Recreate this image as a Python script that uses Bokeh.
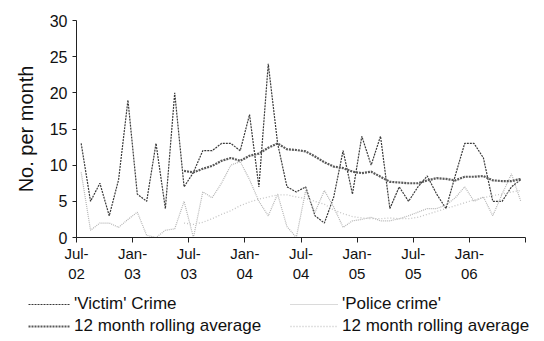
from bokeh.plotting import figure
from bokeh.models import FixedTicker, Range1d, Legend, LegendItem
from bokeh.embed import file_html
from bokeh.resources import INLINE

# Monthly data, Jul-02 .. Jun-06 (48 months)
month_index = list(range(48))
victim = [13, 5, 7.5, 3, 8, 19, 6, 5, 13, 4,
          20, 7, 9, 12, 12, 13, 13, 12, 17, 7,
          24, 13, 7, 6.3, 7, 3, 2, 5.6, 12, 6,
          14, 10, 14, 4, 7, 5, 7, 8.5, 6, 4,
          8.6, 13, 13, 11, 5, 5, 7, 8]
police = [9, 1, 2, 2, 1.4, 2.5, 3.5, 0.3, 0, 1,
          1.2, 5, 0, 6.3, 5.5, 7.5, 10, 10.5, 8, 5,
          3, 6, 1.5, 0, 6.5, 3.5, 6.5, 4.2, 1.4, 2.3,
          2.5, 2.8, 2.3, 2.3, 2.6, 3, 3.5, 4, 4, 4.5,
          5.5, 7, 5, 5.6, 3, 6, 8.8, 5]
# 12 month rolling averages (from Jun-03, month 11)
rolling_start = 11
victim_avg = [9.2, 9.0, 9.5, 9.9, 10.6, 11.0, 10.6, 11.3, 11.6, 12.4,
              13.0, 12.2, 12.1, 11.9, 11.2, 10.4, 9.8, 9.6, 9.1, 8.9,
              9.1, 8.4, 7.7, 7.6, 7.5, 7.5, 7.9, 8.2, 8.1, 7.9,
              8.4, 8.4, 8.5, 7.9, 7.8, 7.8, 8.1]
police_avg = [2.0, 1.8, 2.1, 2.6, 3.2, 3.7, 4.4, 4.9, 5.3, 5.6,
              5.9, 5.9, 5.6, 5.4, 5.0, 4.6, 3.8, 3.3, 2.9, 2.7,
              2.6, 2.6, 2.7, 2.6, 2.6, 2.8, 3.2, 3.6, 4.0, 4.4,
              4.8, 5.2, 5.5, 5.8, 6.0, 6.3, 6.5]

tick_positions = [0, 6, 12, 18, 24, 30, 36, 42, 48]
tick_labels = ["Jul-\n02", "Jan-\n03", "Jul-\n03", "Jan-\n04", "Jul-\n04",
               "Jan-\n05", "Jul-\n05", "Jan-\n06", ""]
y_ticks = [0, 5, 10, 15, 20, 25, 30]

FONT = "Liberation Sans"

STY_V = dict(line_color="#3a3a3a", line_width=1.2, line_dash="2 1")
STY_P = dict(line_color="#b4b4b4", line_width=1.2, line_dash="1 1")
STY_VA = dict(line_color="#5a5a5a", line_width=2.2, line_dash="2 1")
STY_PA = dict(line_color="#c4c4c4", line_width=1.3, line_dash="1 2")

p = figure(width=544, height=290, output_backend="svg", toolbar_location=None,
           x_range=Range1d(0, 48), y_range=Range1d(0, 30),
           min_border_left=76, min_border_right=19, min_border_top=20,
           min_border_bottom=53)
p.outline_line_color = None
p.xgrid.visible = False
p.ygrid.visible = False

xs = [m + 0.5 for m in month_index]
xs_avg = [m + 0.5 for m in range(rolling_start, rolling_start + len(victim_avg))]

p.line(xs, victim, **STY_V)
p.line(xs, police, **STY_P)
p.line(xs_avg, victim_avg, **STY_VA)
p.line(xs_avg, police_avg, **STY_PA)

# axes
p.xaxis.ticker = FixedTicker(ticks=tick_positions)
p.xaxis.major_label_overrides = {t: l for t, l in zip(tick_positions, tick_labels)}
p.xaxis.minor_tick_line_color = None
p.xaxis.major_tick_in = 0
p.xaxis.major_tick_out = 5
p.xaxis.axis_line_color = "#222222"
p.xaxis.major_tick_line_color = "#222222"
p.xaxis.major_label_standoff = 2
p.xaxis.major_label_text_font = FONT
p.xaxis.major_label_text_font_size = "15px"
p.xaxis.major_label_text_color = "#111111"

p.yaxis.ticker = FixedTicker(ticks=y_ticks)
p.yaxis.minor_tick_line_color = None
p.yaxis.major_tick_in = 0
p.yaxis.major_tick_out = 4
p.yaxis.axis_line_color = "#222222"
p.yaxis.major_tick_line_color = "#222222"
p.yaxis.major_label_standoff = 5
p.yaxis.major_label_text_font = FONT
p.yaxis.major_label_text_font_size = "16px"
p.yaxis.major_label_text_color = "#111111"
p.yaxis.axis_label = "No. per month"
p.yaxis.axis_label_text_font = FONT
p.yaxis.axis_label_text_font_size = "20px"
p.yaxis.axis_label_text_font_style = "normal"
p.yaxis.axis_label_text_color = "#111111"
p.yaxis.axis_label_standoff = 10

# legend strip below the chart
lg = figure(width=544, height=51, output_backend="svg", toolbar_location=None,
            x_range=Range1d(0, 1), y_range=Range1d(0, 1),
            x_axis_location=None, y_axis_location=None,
            min_border_left=0, min_border_right=0, min_border_top=0,
            min_border_bottom=0)
lg.grid.visible = False
lg.outline_line_color = None
d_v = lg.line([-5, -4], [-5, -4], **STY_V)
d_p = lg.line([-5, -4], [-5, -4], **STY_P)
d_va = lg.line([-5, -4], [-5, -4], **STY_VA)
d_pa = lg.line([-5, -4], [-5, -4], **STY_PA)

def make_legend(items, loc, gw):
    return Legend(items=items, location=loc, orientation="vertical",
                  glyph_width=gw, glyph_height=12, label_standoff=4,
                  label_text_font=FONT, label_text_font_size="17px",
                  label_text_color="#111111", label_height=20, spacing=2,
                  padding=0, margin=0, border_line_color=None,
                  background_fill_alpha=0)

leg1 = make_legend([LegendItem(label="'Victim' Crime", renderers=[d_v]),
                    LegendItem(label="12 month rolling average", renderers=[d_va])],
                   (28, 5), 42)
leg2 = make_legend([LegendItem(label="'Police crime'", renderers=[d_p]),
                    LegendItem(label="12 month rolling average", renderers=[d_pa])],
                   (290, 5), 48)
lg.add_layout(leg1, "center")
lg.add_layout(leg2, "center")

open("out.html", "w").write(file_html([p, lg], INLINE))
